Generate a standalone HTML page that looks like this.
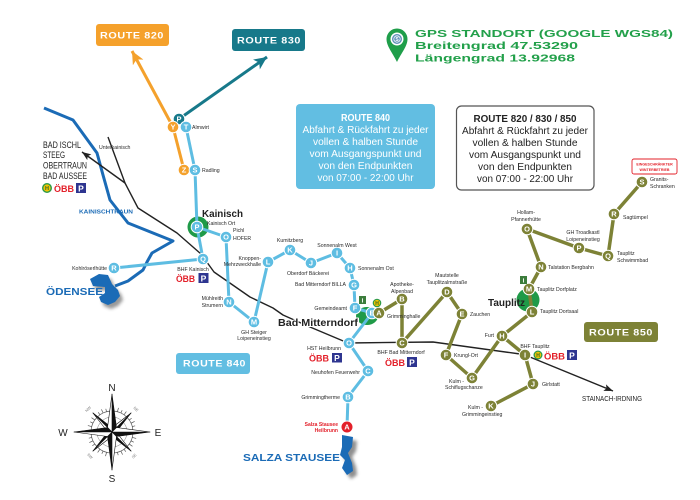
<!DOCTYPE html>
<html><head><meta charset="utf-8"><style>
html,body{margin:0;padding:0;background:#fff;}
svg{display:block;}
text{font-family:"Liberation Sans",sans-serif;}
.nb{fill:#5ebde2;stroke:#fff;stroke-width:1;}
.no{fill:#7d8236;stroke:#fff;stroke-width:1;}
.nor{fill:#f4a12c;stroke:#fff;stroke-width:1;}
.nte{fill:#17798a;stroke:#fff;stroke-width:1;}
.nr{fill:#e3202a;stroke:#fff;stroke-width:1;}
.nt{fill:#fff;font-weight:bold;font-size:7.5px;text-anchor:middle;}
.lb{fill:#2a2a2a;font-size:5.2px;}
.lm{text-anchor:middle;}
.le{text-anchor:end;}
.rt{fill:#fff;font-weight:bold;font-size:9px;letter-spacing:0.5px;}
.obb{fill:#e3202a;font-weight:bold;font-size:9px;}
.bx{font-size:10px;text-anchor:middle;}
</style></head><body>
<svg width="700" height="500" viewBox="0 0 700 500" xmlns="http://www.w3.org/2000/svg">
<defs>
<marker id="mo" markerUnits="userSpaceOnUse" markerWidth="14" markerHeight="12" refX="13" refY="6" orient="auto"><path d="M0,0 L13,6 L0,12 L3.5,6 z" fill="#f4a12c"/></marker>
<marker id="mt" markerUnits="userSpaceOnUse" markerWidth="14" markerHeight="12" refX="13" refY="6" orient="auto"><path d="M0,0 L13,6 L0,12 L3.5,6 z" fill="#17798a"/></marker>
<marker id="mk" markerUnits="userSpaceOnUse" markerWidth="10" markerHeight="8" refX="9" refY="3.5" orient="auto"><path d="M0,0 L9,3.5 L0,7 L2,3.5 z" fill="#222"/></marker>
<filter id="sh" x="-50%" y="-50%" width="200%" height="200%"><feGaussianBlur stdDeviation="1.5"/></filter>
</defs>

<!-- Route title boxes -->
<rect x="96" y="24" width="73" height="22" rx="3" fill="#f5a12b"/>
<text class="rt" x="100" y="38.5" textLength="64" lengthAdjust="spacingAndGlyphs">ROUTE 820</text>
<rect x="232" y="29" width="73" height="22" rx="3" fill="#17798a"/>
<text class="rt" x="237" y="43.5" textLength="64" lengthAdjust="spacingAndGlyphs">ROUTE 830</text>
<rect x="584" y="322" width="74" height="20" rx="3" fill="#7d8236"/>
<text class="rt" x="589" y="335.5" textLength="64" lengthAdjust="spacingAndGlyphs">ROUTE 850</text>
<rect x="176" y="353" width="74" height="21" rx="3" fill="#62bee2"/>
<text class="rt" x="183" y="366.5" textLength="63" lengthAdjust="spacingAndGlyphs">ROUTE 840</text>

<!-- GPS -->
<path d="M397,62 C392,52 386.5,46 386.5,39 A10.5,10.5 0 1 1 407.5,39 C407.5,46 402,52 397,62 z" fill="#1f9e4a"/>
<circle cx="397" cy="39" r="6.5" fill="#fff"/>
<circle cx="397" cy="39" r="5" fill="#5b8fb8"/>
<circle cx="397" cy="39" r="3.2" fill="none" stroke="#fff" stroke-width="0.8"/>
<text x="397" y="41" font-size="5" font-weight="bold" fill="#fff" text-anchor="middle">S</text>
<text x="415" y="37" font-size="10.5" font-weight="bold" fill="#22a04a" textLength="258" lengthAdjust="spacingAndGlyphs">GPS STANDORT (GOOGLE WGS84)</text>
<text x="415" y="49" font-size="10.5" font-weight="bold" fill="#22a04a" textLength="163" lengthAdjust="spacingAndGlyphs">Breitengrad 47.53290</text>
<text x="415" y="61.5" font-size="10.5" font-weight="bold" fill="#22a04a" textLength="160" lengthAdjust="spacingAndGlyphs">Längengrad 13.92968</text>

<!-- Info boxes -->
<rect x="296" y="104" width="139" height="85" rx="4" fill="#62bee2"/>
<g fill="#fff">
<text class="bx" x="365.5" y="121" font-weight="bold" textLength="49" lengthAdjust="spacingAndGlyphs">ROUTE 840</text>
<text class="bx" x="365.5" y="133" textLength="126" lengthAdjust="spacingAndGlyphs">Abfahrt &amp; Rückfahrt zu jeder</text>
<text class="bx" x="365.5" y="145" textLength="105" lengthAdjust="spacingAndGlyphs">vollen &amp; halben Stunde</text>
<text class="bx" x="365.5" y="157" textLength="112" lengthAdjust="spacingAndGlyphs">vom Ausgangspunkt und</text>
<text class="bx" x="365.5" y="169" textLength="94" lengthAdjust="spacingAndGlyphs">von den Endpunkten</text>
<text class="bx" x="365.5" y="181" textLength="96" lengthAdjust="spacingAndGlyphs">von 07:00 - 22:00 Uhr</text>
</g>
<rect x="456.5" y="106" width="137.5" height="84" rx="5" fill="#fff" stroke="#555" stroke-width="1.2"/>
<g fill="#222">
<text class="bx" x="525" y="122" font-weight="bold" textLength="103" lengthAdjust="spacingAndGlyphs">ROUTE 820 / 830 / 850</text>
<text class="bx" x="525" y="134" textLength="126" lengthAdjust="spacingAndGlyphs">Abfahrt &amp; Rückfahrt zu jeder</text>
<text class="bx" x="525" y="146" textLength="105" lengthAdjust="spacingAndGlyphs">vollen &amp; halben Stunde</text>
<text class="bx" x="525" y="158" textLength="112" lengthAdjust="spacingAndGlyphs">vom Ausgangspunkt und</text>
<text class="bx" x="525" y="170" textLength="94" lengthAdjust="spacingAndGlyphs">von den Endpunkten</text>
<text class="bx" x="525" y="182" textLength="96" lengthAdjust="spacingAndGlyphs">von 07:00 - 22:00 Uhr</text>
</g>

<!-- Eingeschränkter Winterbetrieb -->
<rect x="632" y="159" width="45" height="15" rx="2" fill="#fff" stroke="#e3202a" stroke-width="0.9"/>
<text x="654.5" y="165.5" font-size="3.6" font-weight="bold" fill="#e3202a" text-anchor="middle">EINGESCHRÄNKTER</text>
<text x="654.5" y="171" font-size="3.6" font-weight="bold" fill="#e3202a" text-anchor="middle">WINTERBETRIEB</text>

<!-- River -->
<polyline points="44,108 73,120 97,153 103,175 110,200 128,223 173,241 152,253 147,262 143,270 128,281 115,286" fill="none" stroke="#1b6bb6" stroke-width="3" stroke-linejoin="round"/>

<!-- Rail lines -->
<polyline points="108,137 125,183 138,208 177,233 201,254 214,272 250,297 273,308 283,315 310,327 348,343 433,342 520,354 525,355" fill="none" stroke="#222" stroke-width="1.4" stroke-linejoin="round"/>
<line x1="525" y1="355" x2="613" y2="391" stroke="#222" stroke-width="1.4" marker-end="url(#mk)"/>
<line x1="125" y1="183" x2="82" y2="152" stroke="#222" stroke-width="1.4" marker-end="url(#mk)"/>

<!-- Lakes -->
<path d="M91,281 L100,276 L109,277 L113,286 L119,292 L121,298 L116,304 L109,307 L102,304 L100,299 L106,295 L106,289 L94,288 Z" fill="#555" opacity="0.6" filter="url(#sh)" transform="translate(2,2)"/>
<path d="M90,279 L99,274 L108,275 L112,284 L118,290 L120,296 L115,302 L108,305 L101,302 L99,297 L105,293 L105,287 L93,286 Z" fill="#1b6bb6"/>
<path d="M343,437 L354,439 L353,449 L349,455 L353,465 L354,473 L348,477 L343,470 L346,462 L341,457 L343,449 Z" fill="#444" opacity="0.6" filter="url(#sh)" transform="translate(3,2)"/>
<path d="M342,435 L353,437 L352,447 L348,453 L352,463 L353,471 L347,475 L342,468 L345,460 L340,455 L342,447 Z" fill="#1b6bb6"/>

<!-- Green station blobs -->
<circle cx="198" cy="227" r="10.5" fill="#1f9a48"/>
<circle cx="528" cy="300" r="11.5" fill="#1f9a48"/>
<ellipse cx="367" cy="316" rx="11" ry="9" fill="#1f9a48"/>

<!-- Orange & teal routes -->
<line x1="173" y1="127" x2="132" y2="51" stroke="#f4a12c" stroke-width="3" marker-end="url(#mo)"/>
<line x1="173" y1="127" x2="184" y2="170" stroke="#f4a12c" stroke-width="3"/>
<line x1="179" y1="119" x2="267" y2="57" stroke="#17798a" stroke-width="3" marker-end="url(#mt)"/>

<!-- Blue route 840 -->
<g fill="none" stroke="#5ebde2" stroke-width="3" stroke-linejoin="round">
<polyline points="186,127 195,170 197,227 203,259 114,268"/>
<polyline points="197,227 226,237 229,302 254,322 268,262 290,250 311,263 337,253 350,268 354,285 355,308 372,313 349,343 368,371 348,397 347,427"/>
</g>

<!-- Olive route 850 -->
<g fill="none" stroke="#7d8236" stroke-width="3.5" stroke-linejoin="round">
<polyline points="379,313 402,299 402,343 447,292 462,314 446,355 472,378 502,336 532,312 529,289 541,267 527,229 579,248 608,256 614,214 642,182"/>
<polyline points="502,336 525,355 533,384 491,406"/>
</g>

<!-- Nodes -->
<g>
<circle class="nte" cx="179" cy="119" r="5.8"/><text class="nt" x="179" y="121.7">P</text>
<circle class="nor" cx="173" cy="127" r="5.8"/><text class="nt" x="173" y="129.7">Y</text>
<circle class="nor" cx="184" cy="170" r="5.8"/><text class="nt" x="184" y="172.7">Z</text>
<circle class="nb" cx="186" cy="127" r="5.8"/><text class="nt" x="186" y="129.7">T</text>
<circle class="nb" cx="195" cy="170" r="5.8"/><text class="nt" x="195" y="172.7">S</text>
<circle class="nb" cx="197" cy="227" r="5.8"/><text class="nt" x="197" y="229.7">P</text>
<circle class="nb" cx="226" cy="237" r="5.8"/><text class="nt" x="226" y="239.7">O</text>
<circle class="nb" cx="203" cy="259" r="5.8"/><text class="nt" x="203" y="261.7">Q</text>
<circle class="nb" cx="114" cy="268" r="5.8"/><text class="nt" x="114" y="270.7">R</text>
<circle class="nb" cx="229" cy="302" r="5.8"/><text class="nt" x="229" y="304.7">N</text>
<circle class="nb" cx="254" cy="322" r="5.8"/><text class="nt" x="254" y="324.7">M</text>
<circle class="nb" cx="268" cy="262" r="5.8"/><text class="nt" x="268" y="264.7">L</text>
<circle class="nb" cx="290" cy="250" r="5.8"/><text class="nt" x="290" y="252.7">K</text>
<circle class="nb" cx="311" cy="263" r="5.8"/><text class="nt" x="311" y="265.7">J</text>
<circle class="nb" cx="337" cy="253" r="5.8"/><text class="nt" x="337" y="255.7">I</text>
<circle class="nb" cx="350" cy="268" r="5.8"/><text class="nt" x="350" y="270.7">H</text>
<circle class="nb" cx="354" cy="285" r="5.8"/><text class="nt" x="354" y="287.7">G</text>
<circle class="nb" cx="355" cy="308" r="5.8"/><text class="nt" x="355" y="310.7">F</text>
<circle class="nb" cx="372" cy="313" r="5.8"/><text class="nt" x="372" y="315.7">E</text>
<circle class="nb" cx="349" cy="343" r="5.8"/><text class="nt" x="349" y="345.7">O</text>
<circle class="nb" cx="368" cy="371" r="5.8"/><text class="nt" x="368" y="373.7">C</text>
<circle class="nb" cx="348" cy="397" r="5.8"/><text class="nt" x="348" y="399.7">B</text>
<circle class="nr" cx="347" cy="427" r="6"/><text class="nt" x="347" y="429.7">A</text>

<circle class="no" cx="379" cy="313" r="5.8"/><text class="nt" x="379" y="315.7">A</text>
<circle class="no" cx="402" cy="299" r="5.8"/><text class="nt" x="402" y="301.7">B</text>
<circle class="no" cx="402" cy="343" r="5.8"/><text class="nt" x="402" y="345.7">C</text>
<circle class="no" cx="447" cy="292" r="5.8"/><text class="nt" x="447" y="294.7">D</text>
<circle class="no" cx="462" cy="314" r="5.8"/><text class="nt" x="462" y="316.7">E</text>
<circle class="no" cx="446" cy="355" r="5.8"/><text class="nt" x="446" y="357.7">F</text>
<circle class="no" cx="472" cy="378" r="5.8"/><text class="nt" x="472" y="380.7">G</text>
<circle class="no" cx="502" cy="336" r="5.8"/><text class="nt" x="502" y="338.7">H</text>
<circle class="no" cx="525" cy="355" r="5.8"/><text class="nt" x="525" y="357.7">I</text>
<circle class="no" cx="533" cy="384" r="5.8"/><text class="nt" x="533" y="386.7">J</text>
<circle class="no" cx="491" cy="406" r="5.8"/><text class="nt" x="491" y="408.7">K</text>
<circle class="no" cx="532" cy="312" r="5.8"/><text class="nt" x="532" y="314.7">L</text>
<circle class="no" cx="529" cy="289" r="5.8"/><text class="nt" x="529" y="291.7">M</text>
<circle class="no" cx="541" cy="267" r="5.8"/><text class="nt" x="541" y="269.7">N</text>
<circle class="no" cx="527" cy="229" r="5.8"/><text class="nt" x="527" y="231.7">O</text>
<circle class="no" cx="579" cy="248" r="5.8"/><text class="nt" x="579" y="250.7">P</text>
<circle class="no" cx="608" cy="256" r="5.8"/><text class="nt" x="608" y="258.7">Q</text>
<circle class="no" cx="614" cy="214" r="5.8"/><text class="nt" x="614" y="216.7">R</text>
<circle class="no" cx="642" cy="182" r="5.8"/><text class="nt" x="642" y="184.7">S</text>
</g>

<!-- Info & H icons -->
<g>
<rect x="359" y="296" width="7" height="8" fill="#3c7d3c"/>
<text x="362.5" y="302.5" font-size="6.5" font-weight="bold" fill="#fff" text-anchor="middle">i</text>
<rect x="520" y="276" width="7" height="8" fill="#3c7d3c"/>
<text x="523.5" y="282.5" font-size="6.5" font-weight="bold" fill="#fff" text-anchor="middle">i</text>
<circle cx="377" cy="303" r="4.3" fill="#2b9a49"/><circle cx="377" cy="303" r="3.1" fill="#f2c300"/><text x="377" y="305" font-size="5" font-weight="bold" fill="#2b6a2b" text-anchor="middle">H</text>
<circle cx="47" cy="188" r="5" fill="#2b9a49"/><circle cx="47" cy="188" r="3.6" fill="#f2c300"/><text x="47" y="190.2" font-size="5.5" font-weight="bold" fill="#2b6a2b" text-anchor="middle">H</text>
<circle cx="538" cy="355" r="4.5" fill="#2b9a49"/><circle cx="538" cy="355" r="3.2" fill="#f2c300"/><text x="538" y="357" font-size="5" font-weight="bold" fill="#2b6a2b" text-anchor="middle">H</text>
</g>

<!-- ÖBB + P -->
<g>
<text class="obb" x="54" y="192" textLength="20" lengthAdjust="spacingAndGlyphs">ÖBB</text>
<rect x="76" y="183" width="10" height="10" fill="#2e3590"/><text x="81" y="191.3" font-size="8.5" font-weight="bold" fill="#fff" text-anchor="middle">P</text>
<text class="obb" x="176" y="282" textLength="19" lengthAdjust="spacingAndGlyphs">ÖBB</text>
<rect x="198.5" y="273" width="10" height="10" fill="#2e3590"/><text x="203.5" y="281.3" font-size="8.5" font-weight="bold" fill="#fff" text-anchor="middle">P</text>
<text class="obb" x="309" y="361.5" textLength="20" lengthAdjust="spacingAndGlyphs">ÖBB</text>
<rect x="332" y="353" width="10" height="9.5" fill="#2e3590"/><text x="337" y="361" font-size="8.5" font-weight="bold" fill="#fff" text-anchor="middle">P</text>
<text class="obb" x="385" y="366" textLength="20" lengthAdjust="spacingAndGlyphs">ÖBB</text>
<rect x="407" y="357" width="10" height="10" fill="#2e3590"/><text x="412" y="365.3" font-size="8.5" font-weight="bold" fill="#fff" text-anchor="middle">P</text>
<text class="obb" x="544" y="359.5" textLength="21" lengthAdjust="spacingAndGlyphs">ÖBB</text>
<rect x="567" y="350" width="10" height="10" fill="#2e3590"/><text x="572" y="358.3" font-size="8.5" font-weight="bold" fill="#fff" text-anchor="middle">P</text>
</g>

<!-- Big labels -->
<g fill="#222">
<text x="43" y="148" font-size="9" textLength="38" lengthAdjust="spacingAndGlyphs">BAD ISCHL</text>
<text x="43" y="158" font-size="9" textLength="22" lengthAdjust="spacingAndGlyphs">STEEG</text>
<text x="43" y="168.5" font-size="9" textLength="44" lengthAdjust="spacingAndGlyphs">OBERTRAUN</text>
<text x="43" y="179" font-size="9" textLength="44" lengthAdjust="spacingAndGlyphs">BAD AUSSEE</text>
<text x="202" y="217" font-size="10.5" font-weight="bold" textLength="41" lengthAdjust="spacingAndGlyphs">Kainisch</text>
<text x="278" y="326" font-size="10.5" font-weight="bold" textLength="80" lengthAdjust="spacingAndGlyphs" stroke="#fff" stroke-width="2" paint-order="stroke">Bad Mitterndorf</text>
<text x="488" y="306" font-size="10" font-weight="bold" textLength="37" lengthAdjust="spacingAndGlyphs">Tauplitz</text>
<text x="582" y="401" font-size="7" textLength="60" lengthAdjust="spacingAndGlyphs">STAINACH-IRDNING</text>
</g>
<text x="79" y="213.5" font-size="5.5" font-weight="bold" fill="#1b6bb6" textLength="54" lengthAdjust="spacingAndGlyphs">KAINISCHTRAUN</text>
<text x="46" y="295" font-size="10" font-weight="bold" fill="#1b6bb6" textLength="57" lengthAdjust="spacingAndGlyphs">ÖDENSEE</text>
<text x="243" y="461" font-size="10.5" font-weight="bold" fill="#1b6bb6" textLength="97" lengthAdjust="spacingAndGlyphs">SALZA STAUSEE</text>
<text x="338" y="426" font-size="5" font-weight="bold" fill="#e3202a" text-anchor="end">Salza Stausee</text>
<text x="338" y="432" font-size="5" font-weight="bold" fill="#e3202a" text-anchor="end">Heilbrunn</text>

<!-- Small labels -->
<g>
<text class="lb" x="99" y="149">Unterkainisch</text>
<text class="lb" x="192" y="129">Almwirt</text>
<text class="lb" x="202" y="172">Radling</text>
<text class="lb" x="207" y="225">Kainisch Ort</text>
<text class="lb" x="233" y="232">Pichl</text>
<text class="lb" x="233" y="240">HOFER</text>
<text class="lb lm" x="193" y="271">BHF Kainisch</text>
<text class="lb le" x="107" y="270">Kohlröserlhütte</text>
<text class="lb le" x="261" y="260">Knoppen-</text>
<text class="lb le" x="261" y="266">Mehrzweckhalle</text>
<text class="lb le" x="223" y="300">Mühlreith</text>
<text class="lb le" x="223" y="307">Strumern</text>
<text class="lb lm" x="254" y="334">GH Steiger</text>
<text class="lb lm" x="254" y="340">Loipeneinstieg</text>
<text class="lb lm" x="290" y="242">Kumitzberg</text>
<text class="lb lm" x="308" y="275">Oberdorf Bäckerei</text>
<text class="lb lm" x="337" y="247">Sonnenalm West</text>
<text class="lb" x="358" y="270">Sonnenalm Ost</text>
<text class="lb le" x="346" y="286">Bad Mitterndorf BILLA</text>
<text class="lb le" x="347" y="310">Gemeindeamt</text>
<text class="lb le" x="341" y="350">HST Heilbrunn</text>
<text class="lb le" x="360" y="374">Neuhofen Feuerwehr</text>
<text class="lb le" x="340" y="399">Grimmingtherme</text>
<text class="lb lm" x="402" y="286">Apotheke-</text>
<text class="lb lm" x="402" y="293">Alpenbad</text>
<text class="lb" x="387" y="318">Grimminghalle</text>
<text class="lb lm" x="401" y="354">BHF Bad Mitterndorf</text>
<text class="lb lm" x="447" y="277">Mautstelle</text>
<text class="lb lm" x="447" y="284">Tauplitzalmstraße</text>
<text class="lb" x="470" y="316">Zauchen</text>
<text class="lb" x="454" y="357">Krungl-Ort</text>
<text class="lb" x="449" y="383">Kulm -</text>
<text class="lb" x="445" y="389">Schiflugschanze</text>
<text class="lb le" x="494" y="337">Furt</text>
<text class="lb" x="540" y="313">Tauplitz Dortsaal</text>
<text class="lb" x="537" y="291">Tauplitz Dorfplatz</text>
<text class="lb" x="548" y="269">Talstation Bergbahn</text>
<text class="lb lm" x="535" y="348">BHF Tauplitz</text>
<text class="lb" x="542" y="386">Girlstatt</text>
<text class="lb" x="468" y="409">Kulm -</text>
<text class="lb" x="462" y="416">Grimmingeinstieg</text>
<text class="lb lm" x="526" y="214">Hollam-</text>
<text class="lb lm" x="526" y="221">Pfannerhütte</text>
<text class="lb lm" x="583" y="234">GH Troadkastl</text>
<text class="lb lm" x="583" y="241">Loipeneinstieg</text>
<text class="lb" x="617" y="255">Tauplitz</text>
<text class="lb" x="617" y="262">Schwimmbad</text>
<text class="lb" x="623" y="219">Sagtümpel</text>
<text class="lb" x="650" y="181">Granits-</text>
<text class="lb" x="650" y="188">Schranken</text>
</g>

<!-- Compass -->
<g transform="translate(112,432)">
<circle r="21" fill="none" stroke="#555" stroke-width="0.7"/>
<g stroke="#555" stroke-width="0.7">
<line x1="0" y1="-21" x2="0" y2="-25" transform="rotate(15)"/>
<line x1="0" y1="-21" x2="0" y2="-24" transform="rotate(25)"/>
<line x1="0" y1="-21" x2="0" y2="-25" transform="rotate(35)"/>
<line x1="0" y1="-21" x2="0" y2="-24" transform="rotate(55)"/>
<line x1="0" y1="-21" x2="0" y2="-25" transform="rotate(65)"/>
<line x1="0" y1="-21" x2="0" y2="-24" transform="rotate(75)"/>
<line x1="0" y1="-21" x2="0" y2="-25" transform="rotate(105)"/>
<line x1="0" y1="-21" x2="0" y2="-24" transform="rotate(115)"/>
<line x1="0" y1="-21" x2="0" y2="-25" transform="rotate(125)"/>
<line x1="0" y1="-21" x2="0" y2="-24" transform="rotate(145)"/>
<line x1="0" y1="-21" x2="0" y2="-25" transform="rotate(155)"/>
<line x1="0" y1="-21" x2="0" y2="-24" transform="rotate(165)"/>
<line x1="0" y1="-21" x2="0" y2="-25" transform="rotate(195)"/>
<line x1="0" y1="-21" x2="0" y2="-24" transform="rotate(205)"/>
<line x1="0" y1="-21" x2="0" y2="-25" transform="rotate(215)"/>
<line x1="0" y1="-21" x2="0" y2="-24" transform="rotate(235)"/>
<line x1="0" y1="-21" x2="0" y2="-25" transform="rotate(245)"/>
<line x1="0" y1="-21" x2="0" y2="-24" transform="rotate(255)"/>
<line x1="0" y1="-21" x2="0" y2="-25" transform="rotate(285)"/>
<line x1="0" y1="-21" x2="0" y2="-24" transform="rotate(295)"/>
<line x1="0" y1="-21" x2="0" y2="-25" transform="rotate(305)"/>
<line x1="0" y1="-21" x2="0" y2="-24" transform="rotate(325)"/>
<line x1="0" y1="-21" x2="0" y2="-25" transform="rotate(335)"/>
<line x1="0" y1="-21" x2="0" y2="-24" transform="rotate(345)"/>
</g>
<circle r="15" fill="none" stroke="#777" stroke-width="0.5"/>
<!-- diagonal points -->
<g stroke="#111" stroke-width="0.6" stroke-linejoin="round">
<g transform="rotate(45)"><path d="M0,-27 L3,-3 L0,0 Z" fill="#111"/><path d="M0,-27 L-3,-3 L0,0 Z" fill="#fff"/></g>
<g transform="rotate(135)"><path d="M0,-27 L3,-3 L0,0 Z" fill="#111"/><path d="M0,-27 L-3,-3 L0,0 Z" fill="#fff"/></g>
<g transform="rotate(225)"><path d="M0,-27 L3,-3 L0,0 Z" fill="#111"/><path d="M0,-27 L-3,-3 L0,0 Z" fill="#fff"/></g>
<g transform="rotate(315)"><path d="M0,-27 L3,-3 L0,0 Z" fill="#111"/><path d="M0,-27 L-3,-3 L0,0 Z" fill="#fff"/></g>
<!-- main points -->
<g><path d="M0,-38 L4.5,-4.5 L0,0 Z" fill="#111"/><path d="M0,-38 L-4.5,-4.5 L0,0 Z" fill="#fff"/></g>
<g transform="rotate(90)"><path d="M0,-38 L4.5,-4.5 L0,0 Z" fill="#111"/><path d="M0,-38 L-4.5,-4.5 L0,0 Z" fill="#fff"/></g>
<g transform="rotate(180)"><path d="M0,-38 L4.5,-4.5 L0,0 Z" fill="#111"/><path d="M0,-38 L-4.5,-4.5 L0,0 Z" fill="#fff"/></g>
<g transform="rotate(270)"><path d="M0,-38 L4.5,-4.5 L0,0 Z" fill="#111"/><path d="M0,-38 L-4.5,-4.5 L0,0 Z" fill="#fff"/></g>
</g>
<g font-size="3.8" fill="#777" text-anchor="middle">
<text x="-23" y="-22" transform="rotate(-45 -23 -22)">NW</text>
<text x="23" y="-22" transform="rotate(45 23 -22)">NE</text>
<text x="-23" y="25" transform="rotate(45 -23 25)">SW</text>
<text x="23" y="25" transform="rotate(-45 23 25)">SE</text>
</g>
<g font-size="10" fill="#222" text-anchor="middle">
<text x="0" y="-41">N</text>
<text x="0" y="50">S</text>
<text x="-49" y="4">W</text>
<text x="46" y="4">E</text>
</g>
</g>
</svg>
</body></html>
